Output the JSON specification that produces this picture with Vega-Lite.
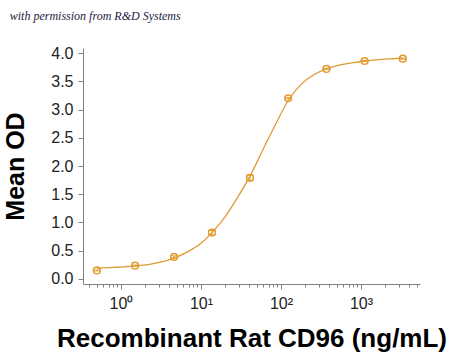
{
  "$schema": "https://vega.github.io/schema/vega-lite/v6.json",
  "width": 337,
  "height": 236,
  "autosize": {"type": "none"},
  "padding": {"left": 83, "top": 48, "right": 30, "bottom": 77},
  "background": "white",
  "config": {"view": {"stroke": null}, "font": "Liberation Sans"},
  "title": {
    "text": "with permission from R&D Systems",
    "anchor": "start",
    "frame": "bounds",
    "font": "Liberation Serif",
    "fontStyle": "italic",
    "fontWeight": "normal",
    "fontSize": 12,
    "color": "#1c1c3c",
    "offset": 22,
    "dx": 6
  },
  "datasets": {
    "curve": [
      {"x": 0.5, "y": 0.19}, {"x": 0.8, "y": 0.205}, {"x": 1.0, "y": 0.21},
      {"x": 1.5, "y": 0.23}, {"x": 2.2, "y": 0.255}, {"x": 3.2, "y": 0.3},
      {"x": 4.6, "y": 0.37}, {"x": 6.8, "y": 0.48}, {"x": 10, "y": 0.63},
      {"x": 13.7, "y": 0.82}, {"x": 20, "y": 1.1}, {"x": 28, "y": 1.42},
      {"x": 41, "y": 1.82}, {"x": 60, "y": 2.3}, {"x": 85, "y": 2.73},
      {"x": 123, "y": 3.16}, {"x": 180, "y": 3.45}, {"x": 260, "y": 3.62},
      {"x": 370, "y": 3.72}, {"x": 550, "y": 3.79}, {"x": 800, "y": 3.83},
      {"x": 1111, "y": 3.86}, {"x": 1700, "y": 3.885}, {"x": 2500, "y": 3.9},
      {"x": 3333, "y": 3.91}
    ],
    "points": [
      {"x": 0.5, "y": 0.15, "e": 0.01},
      {"x": 1.5, "y": 0.235, "e": 0.01},
      {"x": 4.6, "y": 0.39, "e": 0.02},
      {"x": 13.7, "y": 0.82, "e": 0.04},
      {"x": 41, "y": 1.79, "e": 0.05},
      {"x": 123, "y": 3.2, "e": 0.01},
      {"x": 370, "y": 3.72, "e": 0.01},
      {"x": 1111, "y": 3.86, "e": 0.01},
      {"x": 3333, "y": 3.9, "e": 0.01}
    ]
  },
  "encoding": {
    "x": {
      "field": "x", "type": "quantitative",
      "scale": {"type": "log", "domain": [0.335, 5470], "nice": false},
      "axis": {
        "values": [0.4,0.5,0.6,0.7,0.8,0.9,1,2,3,4,5,6,7,8,9,10,20,30,40,50,60,70,80,90,100,200,300,400,500,600,700,800,900,1000,2000,3000,4000,5000],
        "labelExpr": "datum.value == 1 ? '10⁰' : datum.value == 10 ? '10¹' : datum.value == 100 ? '10²' : datum.value == 1000 ? '10³' : ''",
        "tickSize": {"condition": {"test": "datum.value == 1 || datum.value == 10 || datum.value == 100 || datum.value == 1000", "value": 5}, "value": 3},
        "tickColor": "#808080",
        "domainColor": "#808080",
        "labelFontSize": 16,
        "labelColor": "#222222",
        "labelPadding": 6,
        "labelFlush": false,
        "labelOverlap": false,
        "grid": false,
        "title": "Recombinant Rat CD96 (ng/mL)",
        "titleFontSize": 26,
        "titleFontWeight": "bold",
        "titleColor": "#000000",
        "titlePadding": 14
      }
    },
    "y": {
      "field": "y", "type": "quantitative",
      "scale": {"domain": [-0.09, 4.09], "nice": false, "zero": false},
      "axis": {
        "values": [0, 0.5, 1, 1.5, 2, 2.5, 3, 3.5, 4],
        "format": ".1f",
        "tickSize": 5,
        "tickColor": "#808080",
        "domainColor": "#808080",
        "labelFontSize": 16,
        "labelColor": "#222222",
        "labelPadding": 5,
        "labelOverlap": false,
        "labelFlush": false,
        "grid": false,
        "title": "Mean OD",
        "titleFontSize": 25,
        "titleFontWeight": "bold",
        "titleColor": "#000000",
        "titlePadding": 22
      }
    }
  },
  "layer": [
    {
      "data": {"name": "curve"},
      "mark": {"type": "line", "color": "#DE9B35", "strokeWidth": 1.3, "interpolate": "monotone"}
    },
    {
      "data": {"name": "points"},
      "mark": {"type": "errorbar", "ticks": {"size": 8, "color": "#E39A2E"}, "color": "#E39A2E", "thickness": 1.2},
      "encoding": {
        "yError": {"field": "e"}
      }
    },
    {
      "data": {"name": "points"},
      "mark": {"type": "point", "shape": "circle", "filled": false, "color": "#E39A2E", "strokeWidth": 1.5, "size": 45, "opacity": 1}
    }
  ]
}
